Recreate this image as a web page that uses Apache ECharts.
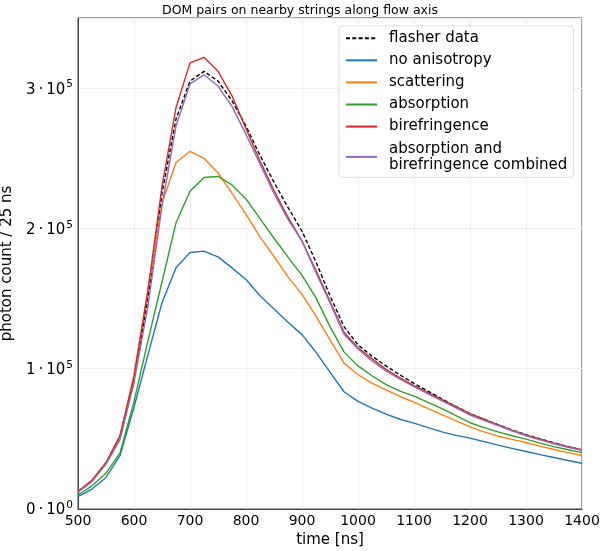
<!DOCTYPE html>
<html>
<head>
<meta charset="utf-8">
<script src="https://cdn.jsdelivr.net/npm/echarts@6/dist/echarts.min.js"></script>
<style>html,body{margin:0;padding:0;background:#fff;}#c{width:600px;height:551px;}</style>
</head>
<body>
<div id="c"></div>
<script>
// time bins [ns]
const times = [500,525,550,575,600,625,650,675,700,725,750,775,800,825,850,875,900,925,950,975,1000,1025,1050,1075,1100,1125,1150,1175,1200,1225,1250,1275,1300,1325,1350,1375,1400];
// photon counts in units of 1e4
const flasherData = [1.24,2.0,3.3,5.2,9.3,15.0,22.5,27.8,30.5,31.2,30.5,29.1,27.3,25.2,23.3,21.5,19.8,17.6,15.2,13.0,11.7,10.9,10.2,9.55,8.95,8.4,7.85,7.3,6.8,6.4,6.02,5.64,5.3,5.0,4.72,4.45,4.2];
const noAnisotropy = [0.88,1.42,2.25,3.8,7.25,11.0,14.7,17.2,18.28,18.38,17.97,17.19,16.36,15.2,14.26,13.31,12.43,11.17,9.76,8.36,7.67,7.19,6.76,6.4,6.12,5.8,5.5,5.25,5.05,4.8,4.55,4.32,4.1,3.88,3.67,3.46,3.26];
const scattering = [1.24,2.05,3.3,5.2,9.6,15.7,21.8,24.7,25.5,25.0,23.95,22.5,21.0,19.4,18.0,16.55,15.3,13.75,12.05,10.4,9.57,8.98,8.5,8.02,7.62,7.15,6.72,6.28,5.85,5.5,5.2,4.96,4.74,4.48,4.24,4.02,3.81];
const absorption = [1.0,1.65,2.55,4.0,7.65,12.0,16.2,20.4,22.65,23.63,23.7,23.1,22.1,20.7,19.3,17.95,16.65,15.05,13.0,11.2,10.2,9.5,8.86,8.4,8.05,7.6,7.15,6.65,6.15,5.8,5.5,5.22,4.98,4.7,4.45,4.22,4.02];
const birefringence = [1.24,2.05,3.3,5.2,9.4,15.6,23.0,28.6,31.8,32.2,31.2,29.45,27.1,24.8,22.7,20.8,19.1,17.0,14.8,12.6,11.5,10.7,9.95,9.35,8.8,8.3,7.8,7.3,6.8,6.4,6.0,5.62,5.28,4.98,4.7,4.45,4.22];
const combined = [1.2,1.95,3.2,4.95,9.0,14.5,21.6,27.3,30.3,30.95,30.15,28.7,26.7,24.6,22.5,20.65,19.1,16.85,14.7,12.45,11.4,10.55,9.85,9.25,8.72,8.2,7.7,7.2,6.7,6.32,5.95,5.58,5.22,4.93,4.65,4.4,4.18];
const yTicks = [0,100000,200000,300000];
const yTickMantissa = ['0','1','2','3'];
const yTickExponent = ['0','5','5','5'];

const FONT = 'DejaVu Sans';
function pairs(arr){ return times.map((t,i)=>[t, arr[i]*1e4]); }
function mk(name, arr, color, dashed){
  return {
    name: name, type: 'line', data: pairs(arr), symbol: 'none', showSymbol: false,
    lineStyle: {color: color, width: 1.4, type: dashed ? [4,2.3] : 'solid'},
    itemStyle: {color: color},
    emphasis: {disabled: true}, animation: false
  };
}
const chart = echarts.init(document.getElementById('c'), null, {renderer: 'canvas'});
chart.setOption({
  animation: false,
  backgroundColor: '#ffffff',
  title: {
    text: 'DOM pairs on nearby strings along flow axis',
    left: 'center', top: 4, padding: 0,
    textStyle: {fontFamily: FONT, fontSize: 12.5, fontWeight: 'normal', color: '#000'}
  },
  grid: {left: 78, right: 18, top: 18, bottom: 42, show: true, borderColor: '#444', borderWidth: 1,
    backgroundColor: 'transparent', containLabel: false, outerBoundsMode: 'none'},
  legend: {
    orient: 'vertical', left: 339, top: 26,
    padding: [4, 6, 4, 6], itemGap: 5.7, itemWidth: 31, itemHeight: 14,
    backgroundColor: 'rgba(255,255,255,0.85)', borderColor: '#dddddd', borderWidth: 1, borderRadius: 3,
    itemStyle: {opacity: 0},
    textStyle: {fontFamily: FONT, fontSize: 15, color: '#000', lineHeight: 16.4, padding: [0,0,0,7]},
    data: ['flasher data','no anisotropy','scattering','absorption','birefringence','absorption and\nbirefringence combined']
  },
  xAxis: {
    type: 'value', min: 500, max: 1400, interval: 100,
    name: 'time [ns]', nameLocation: 'middle', nameGap: 22,
    nameTextStyle: {fontFamily: FONT, fontSize: 15, color: '#000'},
    axisLine: {show: true, lineStyle: {color: '#444', width: 1}},
    axisTick: {show: false},
    axisLabel: {fontFamily: FONT, fontSize: 14, color: '#000', margin: 5, formatter: function(v){ return String(v); }},
    splitLine: {show: true, lineStyle: {color: '#eeeeee', width: 1}}
  },
  yAxis: {
    type: 'value', min: 0, max: 350000, interval: 100000,
    name: 'photon count / 25 ns', nameLocation: 'middle', nameGap: 57, nameRotate: 90,
    nameTextStyle: {fontFamily: FONT, fontSize: 15, color: '#000'},
    axisLine: {show: true, lineStyle: {color: '#444', width: 1}},
    axisTick: {show: false},
    showMaxLabel: false,
    axisLabel: {fontFamily: FONT, fontSize: 14, color: '#000', margin: 5,
      formatter: function(v){
        const i = yTicks.indexOf(v);
        return i >= 0 ? '{n|' + yTickMantissa[i] + '}{d|·}{n|10}{s|' + yTickExponent[i] + '}' : '';
      },
      rich: {
        n: {fontFamily: FONT, fontSize: 15, color: '#000', lineHeight: 18, verticalAlign: 'bottom'},
        d: {fontFamily: FONT, fontSize: 15, color: '#000', padding: [0, 3, 0, 3], lineHeight: 18, verticalAlign: 'bottom'},
        s: {fontFamily: FONT, fontSize: 10.5, color: '#000', lineHeight: 18, verticalAlign: 'top', padding: [0,0,0,1]}
      }
    },
    splitLine: {show: true, lineStyle: {color: '#eeeeee', width: 1}}
  },
  series: [
    mk('flasher data', flasherData, '#000000', true),
    mk('no anisotropy', noAnisotropy, '#1f77b4', false),
    mk('scattering', scattering, '#ff7f0e', false),
    mk('absorption', absorption, '#2ca02c', false),
    mk('birefringence', birefringence, '#d62728', false),
    mk('absorption and\nbirefringence combined', combined, '#9467bd', false)
  ]
});
</script>
</body>
</html>
